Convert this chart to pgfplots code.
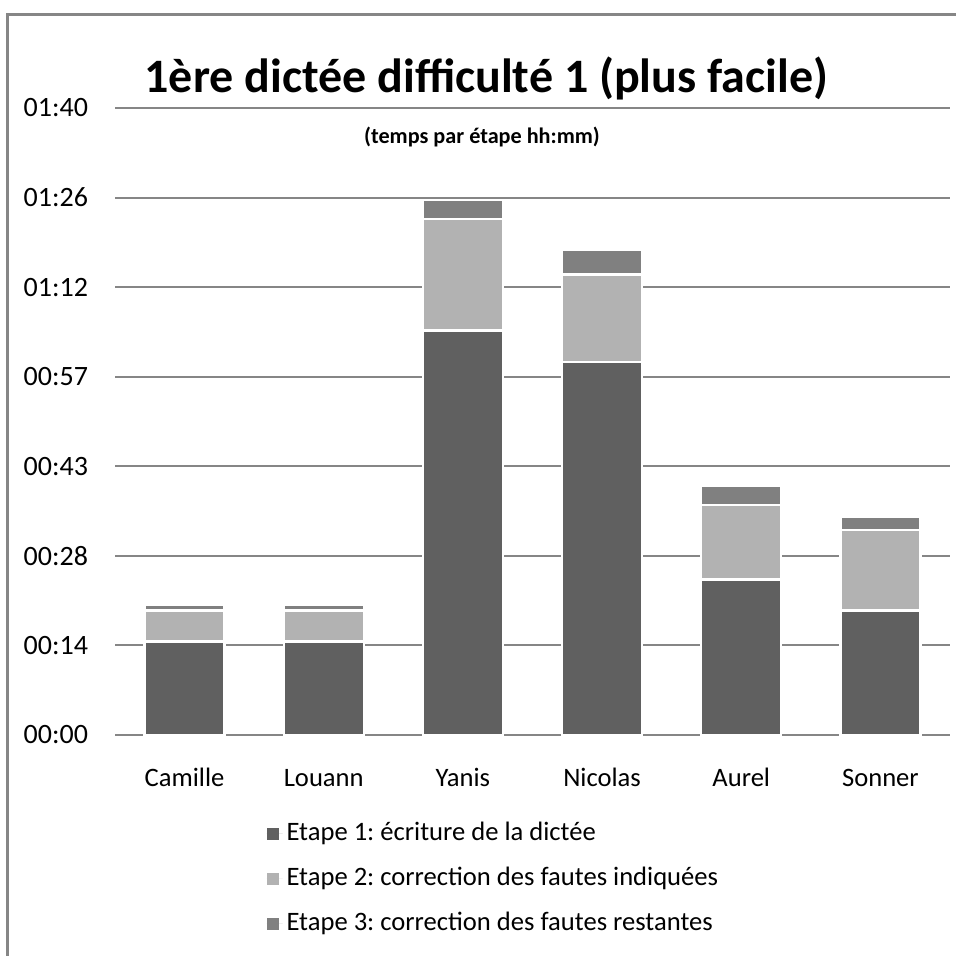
\documentclass[border=0pt]{standalone}
\usepackage{pgfplots}
\pgfplotsset{compat=1.18}
\usepackage{fontspec}
\setmainfont{Carlito}
\frenchspacing
\definecolor{etapeA}{RGB}{96,96,96}
\definecolor{etapeB}{RGB}{178,178,178}
\definecolor{etapeC}{RGB}{128,128,128}
\definecolor{grille}{RGB}{134,134,134}
\begin{document}
\begin{tikzpicture}[x=1pt, y=1pt]
\useasboundingbox (-57.5,-110.5) rectangle (420.5,367.5);
\begin{axis}[
  scale only axis,
  width=417.5pt, height=313.5pt,
  ybar stacked,
  bar width=40pt,
  xmin=-0.5, xmax=5.5,
  ymin=0, ymax=100.8,
  xtick=data,
  xticklabels={Camille,Louann,Yanis,Nicolas,Aurel,Sonner},
  ytick={0,14.4,28.8,43.2,57.6,72,86.4,100.8},
  yticklabels={00:00,00:14,00:28,00:43,00:57,01:12,01:26,01:40},
  major tick length=0pt,
  axis line style={draw=none},
  ymajorgrids,
  grid style={grille, line width=1pt},
  yticklabel style={xshift=-10pt, font=\fontsize{14}{16}\selectfont},
  xticklabel style={yshift=-12pt, text height=10pt, text depth=3pt,
    font=\fontsize{13.3}{15}\selectfont},
  legend style={draw=none, at={(0.181,-0.13)}, anchor=north west,
    font=\fontsize{13.3}{15}\selectfont, row sep=5.5pt, inner sep=0pt,
    nodes={text height=10pt, text depth=3pt}},
  legend cell align=left,
  legend image code/.code={\fill[#1, draw=none] (0pt,-3pt) rectangle (6pt,3pt);
    \path[draw=none] (0pt,0pt) -- (8pt,0pt);},
  every axis plot/.append style={draw=white, line width=1.2pt},
]
\addplot[fill=etapeA] coordinates {(0,15) (1,15) (2,65) (3,60) (4,25) (5,20)};
\addplot[fill=etapeB] coordinates {(0,5) (1,5) (2,18) (3,14) (4,12) (5,13)};
\addplot[fill=etapeC] coordinates {(0,1) (1,1) (2,3) (3,4) (4,3) (5,2)};
\legend{Etape 1: écriture de la dictée,
        Etape 2: correction des fautes indiquées,
        Etape 3: correction des fautes restantes}
\end{axis}
\draw[grille, line width=1.5pt] (-53.5,-110.5) -- (-53.5,360) -- (420.5,360);
\node[font=\bfseries\fontsize{24}{28}\selectfont] at (185.75,328.5) {1ère dictée difficulté 1 (plus facile)};
\node[font=\bfseries\fontsize{11.1}{13}\selectfont] at (183.5,299) {(temps par étape hh:mm)};
\end{tikzpicture}
\end{document}
